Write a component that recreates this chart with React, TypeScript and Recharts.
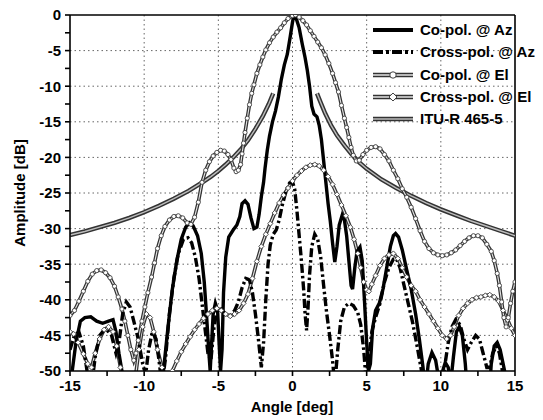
import React from 'react';
import { LineChart, Line, XAxis, YAxis, CartesianGrid, ReferenceLine } from 'recharts';

// ---- data (angle [deg], amplitude [dB]) ----
const coPolAz: [number, number][] = [
  [-15,-55],[-14.85,-50],[-14.6,-46],[-14.3,-43],[-14.0,-42.5],[-13.6,-42.4],[-13.2,-43],[-12.8,-43.3],[-12.4,-43],[-12.1,-42.8],[-11.9,-44.5],[-11.7,-47.5],[-11.5,-50],[-11.3,-54],[-10.1,-56],[-8.9,-54],[-8.7,-50],[-8.4,-44],[-8.1,-38.5],[-7.8,-34.5],[-7.5,-31.5],[-7.2,-29.8],[-6.95,-29.2],[-6.7,-29.6],[-6.4,-31],[-6.15,-33.5],[-5.95,-37.5],[-5.8,-42],[-5.65,-47],[-5.55,-50],[-5.45,-46],[-5.35,-42],[-5.2,-40.5],[-5.05,-41.5],[-4.95,-46],[-4.85,-50],[-4.75,-47],[-4.65,-39],[-4.5,-34],[-4.3,-31.2],[-4.0,-30.2],[-3.75,-29.5],[-3.55,-28.3],[-3.4,-26.5],[-3.2,-26.1],[-3.0,-26.6],[-2.8,-28.5],[-2.6,-30],[-2.4,-29.8],[-2.25,-28],[-2.1,-25.5],[-1.95,-23.5],[-1.85,-21.5],[-1.7,-19],[-1.55,-17],[-1.35,-15],[-1.15,-13.5],[-0.95,-11.5],[-0.75,-9],[-0.55,-7],[-0.35,-5.5],[-0.15,-3],[0.0,-1],[0.1,0],[0.25,-0.5],[0.45,-1.8],[0.65,-4],[0.85,-6],[1.0,-7.8],[1.15,-10],[1.3,-12.8],[1.45,-13.9],[1.65,-14.3],[1.8,-15.5],[1.95,-17.5],[2.1,-20.5],[2.25,-23.5],[2.4,-26.5],[2.55,-29],[2.7,-32],[2.85,-34.7],[3.0,-32.5],[3.15,-29.5],[3.35,-28.1],[3.5,-28.8],[3.65,-31],[3.8,-34.5],[3.95,-38],[4.05,-38.5],[4.2,-35.5],[4.35,-33.2],[4.55,-32.6],[4.7,-34.5],[4.85,-40],[5.0,-46],[5.12,-50],[5.25,-49],[5.4,-44],[5.6,-41.5],[5.85,-40.5],[6.1,-38.5],[6.35,-35.5],[6.6,-32.5],[6.8,-31],[6.95,-30.7],[7.15,-31.2],[7.4,-33],[7.7,-35.8],[8.0,-38.5],[8.3,-42],[8.55,-45.5],[8.8,-49.5],[8.95,-53],[9.15,-49],[9.4,-47.4],[9.65,-48.5],[9.85,-51],[10.05,-50.5],[10.3,-48.8],[10.5,-49.5],[10.65,-52],[10.85,-48],[11.05,-44.5],[11.25,-43.8],[11.45,-45],[11.65,-49],[11.85,-55],[13.2,-55],[13.4,-49],[13.6,-46.5],[13.8,-46],[14.0,-47],[14.2,-49],[14.4,-51],[14.6,-56],[15,-56],
];

const crossPolAz: [number, number][] = [
  [-15,-47],[-14.7,-45],[-14.4,-44.5],[-14.1,-46.5],[-13.85,-50],[-13.6,-53],[-13.3,-48],[-13.0,-45],[-12.6,-44],[-12.2,-45],[-11.9,-47.5],[-11.7,-46],[-11.45,-42],[-11.2,-40.3],[-10.95,-41],[-10.7,-43],[-10.4,-45.5],[-10.1,-49],[-9.9,-50.5],[-9.7,-47],[-9.45,-44.5],[-9.2,-45.5],[-9.0,-48.5],[-8.8,-52],[-8.55,-48],[-8.3,-42],[-8.0,-37],[-7.7,-33.5],[-7.35,-31.5],[-7.05,-31.3],[-6.8,-32],[-6.55,-34],[-6.3,-37],[-6.1,-40.5],[-5.9,-44],[-5.7,-47.5],[-5.5,-48.5],[-5.3,-44],[-5.1,-41.5],[-4.8,-41.3],[-4.5,-42],[-4.2,-42.2],[-3.9,-41.5],[-3.65,-40.3],[-3.4,-38.3],[-3.15,-37],[-2.9,-37.2],[-2.7,-39],[-2.5,-42],[-2.3,-45.5],[-2.1,-49.5],[-1.95,-46],[-1.8,-40],[-1.65,-35],[-1.5,-32.3],[-1.3,-30.8],[-1.1,-30.2],[-0.9,-28.8],[-0.7,-26.8],[-0.45,-24.8],[-0.2,-23.6],[0.0,-23.4],[0.15,-24.5],[0.3,-27.5],[0.45,-31],[0.6,-34.5],[0.75,-38.5],[0.85,-42],[0.95,-44.3],[1.05,-41],[1.15,-36.5],[1.3,-32.5],[1.5,-30.8],[1.7,-31.5],[1.9,-34],[2.1,-38],[2.3,-41.8],[2.5,-45],[2.7,-48.5],[2.85,-52],[3.05,-47],[3.25,-43],[3.5,-41],[3.8,-40.5],[4.1,-40.8],[4.4,-41.8],[4.6,-43.5],[4.8,-47],[4.95,-51],[5.15,-48],[5.35,-44.5],[5.6,-42.5],[5.9,-40.5],[6.2,-37.5],[6.5,-35.5],[6.8,-34.3],[7.0,-34.2],[7.25,-35.5],[7.5,-37.8],[7.8,-40.5],[8.1,-43.2],[8.4,-46.5],[8.7,-50],[8.9,-54],[10.0,-54],[10.25,-49.5],[10.5,-46],[10.75,-43.8],[11.0,-42.8],[11.3,-43.5],[11.55,-45.5],[11.8,-47],[12.05,-46],[12.35,-45],[12.6,-45.5],[12.85,-47.5],[13.1,-49.5],[13.3,-49.5],[13.5,-47.5],[13.75,-46.5],[13.95,-47.5],[14.15,-50],[14.35,-54],[15,-54],
];

const coPolEl: [number, number][] = [
  [-15,-42.2],[-14.7,-41.5],[-14.4,-40.2],[-14.1,-38.8],[-13.8,-37.4],[-13.5,-36.4],[-13.2,-35.9],[-12.9,-35.8],[-12.6,-36.2],[-12.3,-36.9],[-12.0,-38.1],[-11.75,-39.6],[-11.5,-41.3],[-11.3,-43],[-11.1,-45],[-10.9,-47],[-10.7,-48.5],[-10.55,-47.5],[-10.4,-45.7],[-10.15,-43],[-9.95,-41],[-9.75,-39],[-9.5,-36.8],[-9.3,-34.8],[-9.1,-32.8],[-8.85,-31],[-8.6,-29.7],[-8.3,-28.8],[-8.0,-28.3],[-7.7,-28.2],[-7.4,-28.5],[-7.1,-29.2],[-6.85,-29.4],[-6.6,-28.4],[-6.35,-26.3],[-6.1,-23.5],[-5.85,-21.8],[-5.6,-20.6],[-5.35,-19.8],[-5.1,-19.3],[-4.85,-19],[-4.6,-19.1],[-4.35,-19.6],[-4.15,-20.3],[-3.95,-21.5],[-3.8,-22],[-3.65,-21.8],[-3.5,-21],[-3.4,-19.5],[-3.3,-18],[-3.2,-16.5],[-3.05,-14.5],[-2.9,-12.6],[-2.75,-11],[-2.6,-9.8],[-2.4,-8.2],[-2.2,-7],[-2.0,-5.9],[-1.8,-4.9],[-1.55,-3.9],[-1.3,-3.1],[-1.05,-2.4],[-0.8,-1.8],[-0.55,-1.1],[-0.3,-0.5],[0.0,-0.1],[0.2,0],[0.45,-0.3],[0.7,-0.8],[0.95,-1.4],[1.2,-2.2],[1.45,-3.0],[1.7,-3.8],[1.95,-4.6],[2.2,-5.6],[2.45,-6.8],[2.7,-8.2],[2.9,-9.5],[3.1,-10.8],[3.3,-12.7],[3.5,-14.5],[3.65,-15.8],[3.8,-17.2],[3.95,-18.6],[4.1,-19.7],[4.3,-20.5],[4.5,-20.4],[4.75,-19.6],[5.0,-19],[5.3,-18.6],[5.6,-18.5],[5.9,-18.8],[6.2,-19.6],[6.5,-20.5],[6.8,-21.8],[7.1,-23],[7.4,-24.4],[7.7,-25.6],[8.0,-27],[8.3,-28.6],[8.6,-30.3],[8.9,-31.8],[9.2,-32.8],[9.5,-33.4],[9.8,-33.7],[10.1,-33.8],[10.4,-33.7],[10.7,-33.4],[11.0,-33],[11.3,-32.4],[11.6,-31.8],[11.9,-31.3],[12.2,-31],[12.5,-31],[12.8,-31.3],[13.1,-32.2],[13.4,-33.2],[13.6,-34.5],[13.8,-36.3],[13.95,-38],[14.1,-40.3],[14.25,-42.5],[14.4,-43.8],[14.55,-42.5],[14.7,-40.5],[14.85,-38.8],[15,-37.5],
];

const crossPolEl: [number, number][] = [
  [-15,-44.5],[-14.75,-44.8],[-14.45,-46],[-14.1,-47.6],[-13.8,-49],[-13.55,-49.5],[-13.3,-47.5],[-13.0,-45.5],[-12.7,-44.2],[-12.4,-43.8],[-12.1,-44.5],[-11.85,-46.5],[-11.6,-49.5],[-11.4,-51],[-10.6,-51],[-10.35,-47],[-10.1,-43.8],[-9.85,-42],[-9.6,-42.5],[-9.35,-44.5],[-9.1,-47],[-8.8,-49.5],[-8.5,-51],[-8.1,-50],[-7.8,-48.6],[-7.5,-47.3],[-7.2,-46.2],[-6.9,-45.2],[-6.6,-44.2],[-6.3,-43.4],[-6.0,-42.6],[-5.7,-42],[-5.4,-41.5],[-5.1,-41.2],[-4.8,-41.5],[-4.5,-42],[-4.2,-42.3],[-3.9,-42],[-3.6,-41.5],[-3.3,-40.5],[-3.0,-39.2],[-2.7,-37],[-2.4,-34.6],[-2.1,-32.5],[-1.8,-30.8],[-1.5,-29.3],[-1.2,-27.8],[-0.9,-26.4],[-0.6,-25.3],[-0.3,-24.3],[0.0,-23.3],[0.3,-22.5],[0.6,-21.9],[0.9,-21.4],[1.2,-21.1],[1.5,-21.0],[1.8,-21.2],[2.1,-21.8],[2.4,-22.7],[2.7,-23.8],[3.0,-25.2],[3.3,-26.7],[3.6,-28.2],[3.9,-29.8],[4.15,-31.5],[4.4,-33.5],[4.6,-35.5],[4.8,-37.5],[5.0,-38.6],[5.15,-38.8],[5.35,-37.8],[5.6,-36.6],[5.9,-35.2],[6.2,-34.2],[6.5,-33.7],[6.8,-33.5],[7.1,-34.2],[7.4,-35.5],[7.7,-36.8],[8.0,-38],[8.3,-38.8],[8.6,-40],[8.9,-41],[9.2,-42],[9.5,-43],[9.8,-44],[10.1,-45],[10.4,-45.5],[10.65,-45],[10.9,-43.8],[11.2,-42.2],[11.5,-41.2],[11.8,-40.5],[12.1,-40],[12.4,-39.7],[12.7,-39.6],[13.0,-39.4],[13.3,-39.3],[13.6,-39.6],[13.9,-40.2],[14.2,-41.5],[14.5,-42.8],[14.75,-44],[15,-45],
];

const ituLeft: [number, number][] = [
  [-15,-30.9],[-14,-30.4],[-13,-29.8],[-12,-29.2],[-11,-28.5],[-10,-27.7],[-9,-26.8],[-8,-25.8],[-7,-24.7],[-6,-23.4],[-5.5,-22.7],[-5,-21.9],[-4.5,-21],[-4,-20],[-3.5,-18.9],[-3,-17.6],[-2.5,-16],[-2,-14.2],[-1.6,-12.5],[-1.3,-11],
];
const ituRight: [number, number][] = [
  [1.65,-11],[1.9,-12.3],[2.2,-13.8],[2.6,-15.5],[3,-16.9],[3.5,-18.3],[4,-19.6],[4.5,-20.7],[5,-21.6],[6,-23.1],[7,-24.3],[8,-25.4],[9,-26.4],[10,-27.3],[11,-28.1],[12,-28.9],[13,-29.6],[14,-30.3],[15,-31],
];

const xTicks = [-15,-12.5,-10,-7.5,-5,-2.5,0,2.5,5,7.5,10,12.5,15];
const yTicks = [0,-2.5,-5,-7.5,-10,-12.5,-15,-17.5,-20,-22.5,-25,-27.5,-30,-32.5,-35,-37.5,-40,-42.5,-45,-47.5,-50];
const xGrid = [-10,-5,0,5,10];
const yGrid = [-5,-10,-15,-20,-25,-30,-35,-40,-45];

const legendLabels = ['Co-pol. @ Az', 'Cross-pol. @ Az', 'Co-pol. @ El', 'Cross-pol. @ El', 'ITU-R 465-5'];

const toRows = (pairs: [number, number][]) => pairs.map(([x, y]) => ({ x, y }));
const ituRows = [...toRows(ituLeft), { x: 0.2, y: null }, ...toRows(ituRight)];

const FONT = '"Liberation Sans", Arial, Helvetica, sans-serif';

const circleDot = (props: any) => {
  const { cx, cy, index } = props;
  if (cx == null || cy == null) return <g key={`c-${index}`} />;
  return <circle key={`c-${index}`} cx={cx} cy={cy} r={2.1} fill="#fff" stroke="#444" strokeWidth={0.9} />;
};
const diamondDot = (props: any) => {
  const { cx, cy, index } = props;
  if (cx == null || cy == null) return <g key={`d-${index}`} />;
  const s = 2.6;
  return (
    <path key={`d-${index}`} d={`M${cx},${cy - s}L${cx + s},${cy}L${cx},${cy + s}L${cx - s},${cy}Z`} fill="#fff" stroke="#444" strokeWidth={0.9} />
  );
};

const tickStyle = { fill: '#000', fontSize: 15, fontWeight: 700, fontFamily: FONT };

const LegendSample = ({ kind }: { kind: number }) => {
  const w = 42;
  return (
    <svg width={w} height={12} style={{ display: 'block' }}>
      {kind === 0 && <line x1={1} y1={6} x2={w - 1} y2={6} stroke="#000" strokeWidth={3.8} />}
      {kind === 1 && <line x1={1} y1={6} x2={w - 1} y2={6} stroke="#000" strokeWidth={3.8} strokeDasharray="10 3 3 3" />}
      {(kind === 2 || kind === 3 || kind === 4) && (
        <>
          <line x1={1} y1={6} x2={w - 1} y2={6} stroke="#333" strokeWidth={4.4} />
          <line x1={1} y1={6} x2={w - 1} y2={6} stroke={kind === 4 ? '#bbb' : '#e6e6e6'} strokeWidth={1.4} />
        </>
      )}
      {kind === 2 && <circle cx={w / 2} cy={6} r={3.2} fill="#fff" stroke="#444" strokeWidth={1} />}
      {kind === 3 && <path d={`M${w / 2},2L${w / 2 + 4},6L${w / 2},10L${w / 2 - 4},6Z`} fill="#fff" stroke="#444" strokeWidth={1} />}
    </svg>
  );
};

export default function App() {
  return (
    <div style={{ position: 'absolute', left: 0, top: 0, width: 543, height: 420, background: '#fff', fontFamily: FONT }}>
      <LineChart width={543} height={420} margin={{ top: 15, right: 28, bottom: 0, left: 0 }}>
        <CartesianGrid horizontalValues={yGrid} verticalValues={xGrid} stroke="#666" strokeDasharray="1.5 3" />
        <XAxis
          type="number"
          dataKey="x"
          domain={[-15, 15]}
          ticks={xTicks}
          allowDataOverflow
          height={49}
          stroke="#000"
          strokeWidth={1.6}
          tickSize={5}
          tickMargin={4}
          tick={tickStyle}
          tickFormatter={(v: number) => (v % 5 === 0 ? String(v) : '')}
          interval={0}
        />
        <YAxis
          type="number"
          domain={[-50, 0]}
          ticks={yTicks}
          allowDataOverflow
          width={70}
          stroke="#000"
          strokeWidth={1.6}
          tickSize={5}
          tickMargin={4}
          tick={tickStyle}
          tickFormatter={(v: number) => (v % 5 === 0 ? String(v) : '')}
          interval={0}
        />
        <ReferenceLine y={0} stroke="#000" strokeWidth={1.6} />
        <ReferenceLine x={15} stroke="#000" strokeWidth={1.6} />

        {/* ITU-R 465-5 double line */}
        <Line data={ituRows} dataKey="y" stroke="#333" strokeWidth={4.4} dot={false} isAnimationActive={false} connectNulls={false} />
        <Line data={ituRows} dataKey="y" stroke="#bdbdbd" strokeWidth={1.4} dot={false} isAnimationActive={false} connectNulls={false} />

        {/* Cross-pol @ El */}
        <Line data={toRows(crossPolEl)} dataKey="y" stroke="#333" strokeWidth={3.6} dot={false} isAnimationActive={false} />
        <Line data={toRows(crossPolEl)} dataKey="y" stroke="#e6e6e6" strokeWidth={1.1} dot={diamondDot} isAnimationActive={false} />

        {/* Co-pol @ El */}
        <Line data={toRows(coPolEl)} dataKey="y" stroke="#333" strokeWidth={3.6} dot={false} isAnimationActive={false} />
        <Line data={toRows(coPolEl)} dataKey="y" stroke="#e6e6e6" strokeWidth={1.1} dot={circleDot} isAnimationActive={false} />

        {/* Cross-pol @ Az */}
        <Line data={toRows(crossPolAz)} dataKey="y" stroke="#000" strokeWidth={3.4} strokeDasharray="9 3 2.5 3" dot={false} isAnimationActive={false} />

        {/* Co-pol @ Az */}
        <Line data={toRows(coPolAz)} dataKey="y" stroke="#000" strokeWidth={3.4} dot={false} isAnimationActive={false} />
      </LineChart>

      {/* legend */}
      <div style={{ position: 'absolute', left: 372, top: 19, width: 175 }}>
        {legendLabels.map((label, i) => (
          <div key={label} style={{ display: 'flex', alignItems: 'center', height: 22.3 }}>
            <LegendSample kind={i} />
            <span style={{ marginLeft: 6, fontSize: 15, fontWeight: 700, color: '#000', whiteSpace: 'nowrap', lineHeight: '22px' }}>{label}</span>
          </div>
        ))}
      </div>

      {/* axis titles */}
      <div style={{ position: 'absolute', left: 240, top: 398, width: 104, textAlign: 'center', fontSize: 15, fontWeight: 700, color: '#000', whiteSpace: 'nowrap' }}>
        Angle [deg]
      </div>
      <div style={{ position: 'absolute', left: 20, top: 193, width: 0, height: 0 }}>
        <div style={{ position: 'absolute', left: -80, top: -10, width: 160, textAlign: 'center', transform: 'rotate(-90deg)', fontSize: 15, fontWeight: 700, color: '#000', whiteSpace: 'nowrap', lineHeight: '20px' }}>
          Amplitude [dB]
        </div>
      </div>
    </div>
  );
}
